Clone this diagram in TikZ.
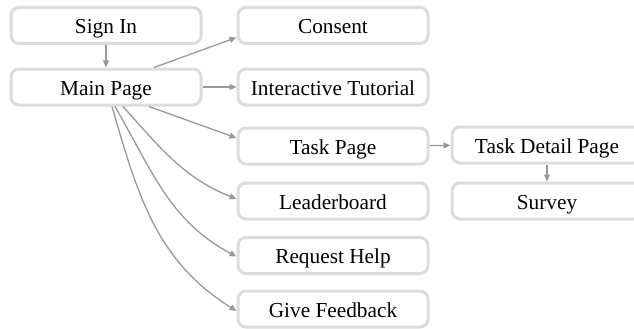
\documentclass[tikz,border=0pt]{standalone}
\usepackage{fontspec}
\setmainfont{Liberation Serif}
\usetikzlibrary{arrows.meta}
\definecolor{boxgray}{HTML}{DCDCDC}
\definecolor{arrgray}{HTML}{999999}
\begin{document}
\begin{tikzpicture}[x=1pt,y=1pt,
  pagebox/.style={draw=boxgray, line width=3pt, rounded corners=8pt, fill=white,
    minimum width=190pt, minimum height=36pt, inner sep=0pt,
    text height=20pt, text depth=4pt,
    font=\fontsize{21.3}{24}\selectfont},
  link/.style={draw=arrgray, line width=1.3pt, -{Triangle[length=7pt,width=6pt]}}]
\useasboundingbox (0,0) rectangle (634,-329);
\node[pagebox] (signin)   at (106,-25.5) {Sign In};
\node[pagebox] (main)     at (106,-87)   {Main Page};
\node[pagebox] (consent)  at (333,-25.5) {Consent};
\node[pagebox] (tutorial) at (333,-87)   {Interactive Tutorial};
\node[pagebox] (task)     at (333,-146)  {Task Page};
\node[pagebox] (leader)   at (333,-201)  {Leaderboard};
\node[pagebox] (help)     at (333,-255.5){Request Help};
\node[pagebox] (feedback) at (333,-309)  {Give Feedback};
\node[pagebox] (detail)   at (547,-145)  {Task Detail Page};
\node[pagebox] (survey)   at (547,-201)  {Survey};
\draw[link] (signin) -- (main);
\draw[link] ([xshift=48pt]main.north) -- ([yshift=-12pt]consent.west);
\draw[link] (main) -- (tutorial);
\draw[link] ([xshift=43pt]main.south) -- ([yshift=8pt]task.west);
\draw[link] ([xshift=17pt]main.south) to[out=-48,in=158] ([yshift=2pt]leader.west);
\draw[link] ([xshift=9pt]main.south) to[out=-60,in=152] ([yshift=-1pt]help.west);
\draw[link] ([xshift=6pt]main.south) to[out=-74,in=148] ([yshift=-2pt]feedback.west);
\draw[link] (task) -- (detail);
\draw[link] (detail) -- (survey);
\end{tikzpicture}
\end{document}
